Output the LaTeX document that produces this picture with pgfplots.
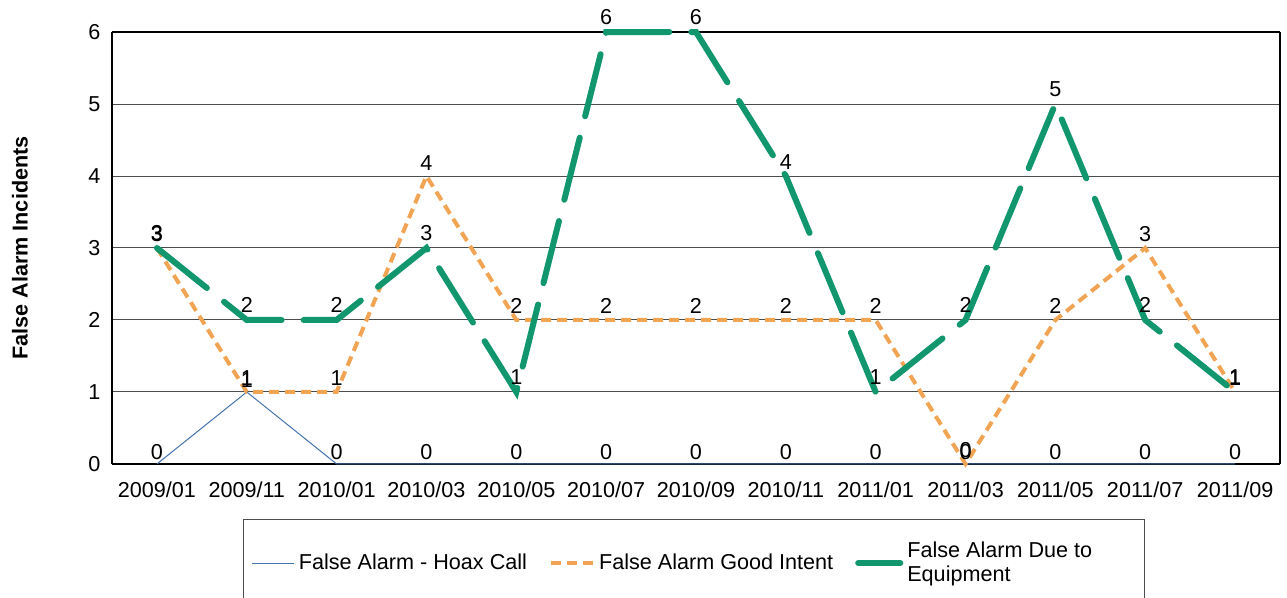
\documentclass[border=0pt]{standalone}
\usepackage{pgfplots}
\pgfplotsset{compat=1.18}
\usepackage{fontspec}
\setmainfont{Liberation Sans}
\definecolor{hoax}{RGB}{68,114,176}
\definecolor{good}{RGB}{240,164,84}
\definecolor{equip}{RGB}{18,150,110}
\begin{document}
\fontsize{10.8}{13}\selectfont
\begin{tikzpicture}
\begin{axis}[
  scale only axis, width=584pt, height=216pt,
  xmin=-0.5, xmax=12.5, ymin=0, ymax=6,
  xtick={0,...,12},
  xticklabels={2009/01,2009/11,2010/01,2010/03,2010/05,2010/07,2010/09,2010/11,2011/01,2011/03,2011/05,2011/07,2011/09},
  ytick={0,...,6},
  major tick length=0pt,
  ymajorgrids, grid style={black!70, line width=0.5pt},
  axis line style={black, line width=1pt},
  separate axis lines,
  x axis line style={black,line width=1.2pt},
  y axis line style={black,line width=1.2pt},
  /pgf/number format/assume math mode=true,
  ticklabel style={font=\fontsize{10.8}{13}\selectfont},
  xticklabel style={yshift=-5pt},
  yticklabel style={xshift=-2pt},
  ylabel={\bfseries False Alarm Incidents},
  ylabel style={at={(axis description cs:-0.0788,0.5)}, anchor=center, font=\fontsize{10.8}{13}\selectfont},
  nodes near coords,
  every node near coord/.append style={font=\fontsize{10.8}{13}\selectfont, black, inner sep=2pt},
  point meta=explicit symbolic,
  legend style={at={(0.4983,-0.1273)}, anchor=north, draw=black!70, line width=0.6pt,
    font=\fontsize{10.8}{12}\selectfont, legend columns=3,
    inner xsep=4pt, inner ysep=9pt,
    /tikz/every even column/.append style={column sep=9pt},
    cells={align=left, anchor=west}},
  legend image code/.code={\draw[#1] (0cm,0cm) -- (0.74cm,0cm);},
  clip=false,
]
\addplot[hoax, line width=0.5pt] coordinates {
(0,0)[0] (1,1)[1] (2,0)[0] (3,0)[0] (4,0)[0] (5,0)[0] (6,0)[0] (7,0)[0] (8,0)[0] (9,0)[0] (10,0)[0] (11,0)[0] (12,0)[0]};
\addlegendentry{False Alarm - Hoax Call}
\addplot[good, line width=2pt, dash pattern=on 5pt off 3pt] coordinates {
(0,3)[3] (1,1)[1] (2,1)[1] (3,4)[4] (4,2)[2] (5,2)[2] (6,2)[2] (7,2)[2] (8,2)[2] (9,0)[0] (10,2)[2] (11,3)[3] (12,1)[1]};
\addlegendentry{False Alarm Good Intent}
\addplot[equip, line width=3pt, dash pattern=on 32pt off 11pt, line cap=round] coordinates {
(0,3)[3] (1,2)[2] (2,2)[2] (3,3)[3] (4,1)[1] (5,6)[6] (6,6)[6] (7,4)[4] (8,1)[1] (9,2)[2] (10,5)[5] (11,2)[2] (12,1)[1]};
\addlegendentry{False Alarm Due to\hspace*{20pt}\\Equipment}
\coordinate (bl) at (rel axis cs:0,0);
\end{axis}
\pgfresetboundingbox
\useasboundingbox ([xshift=-56pt,yshift=-67pt]bl) rectangle ([xshift=587.5pt,yshift=232pt]bl);
\end{tikzpicture}
\end{document}
